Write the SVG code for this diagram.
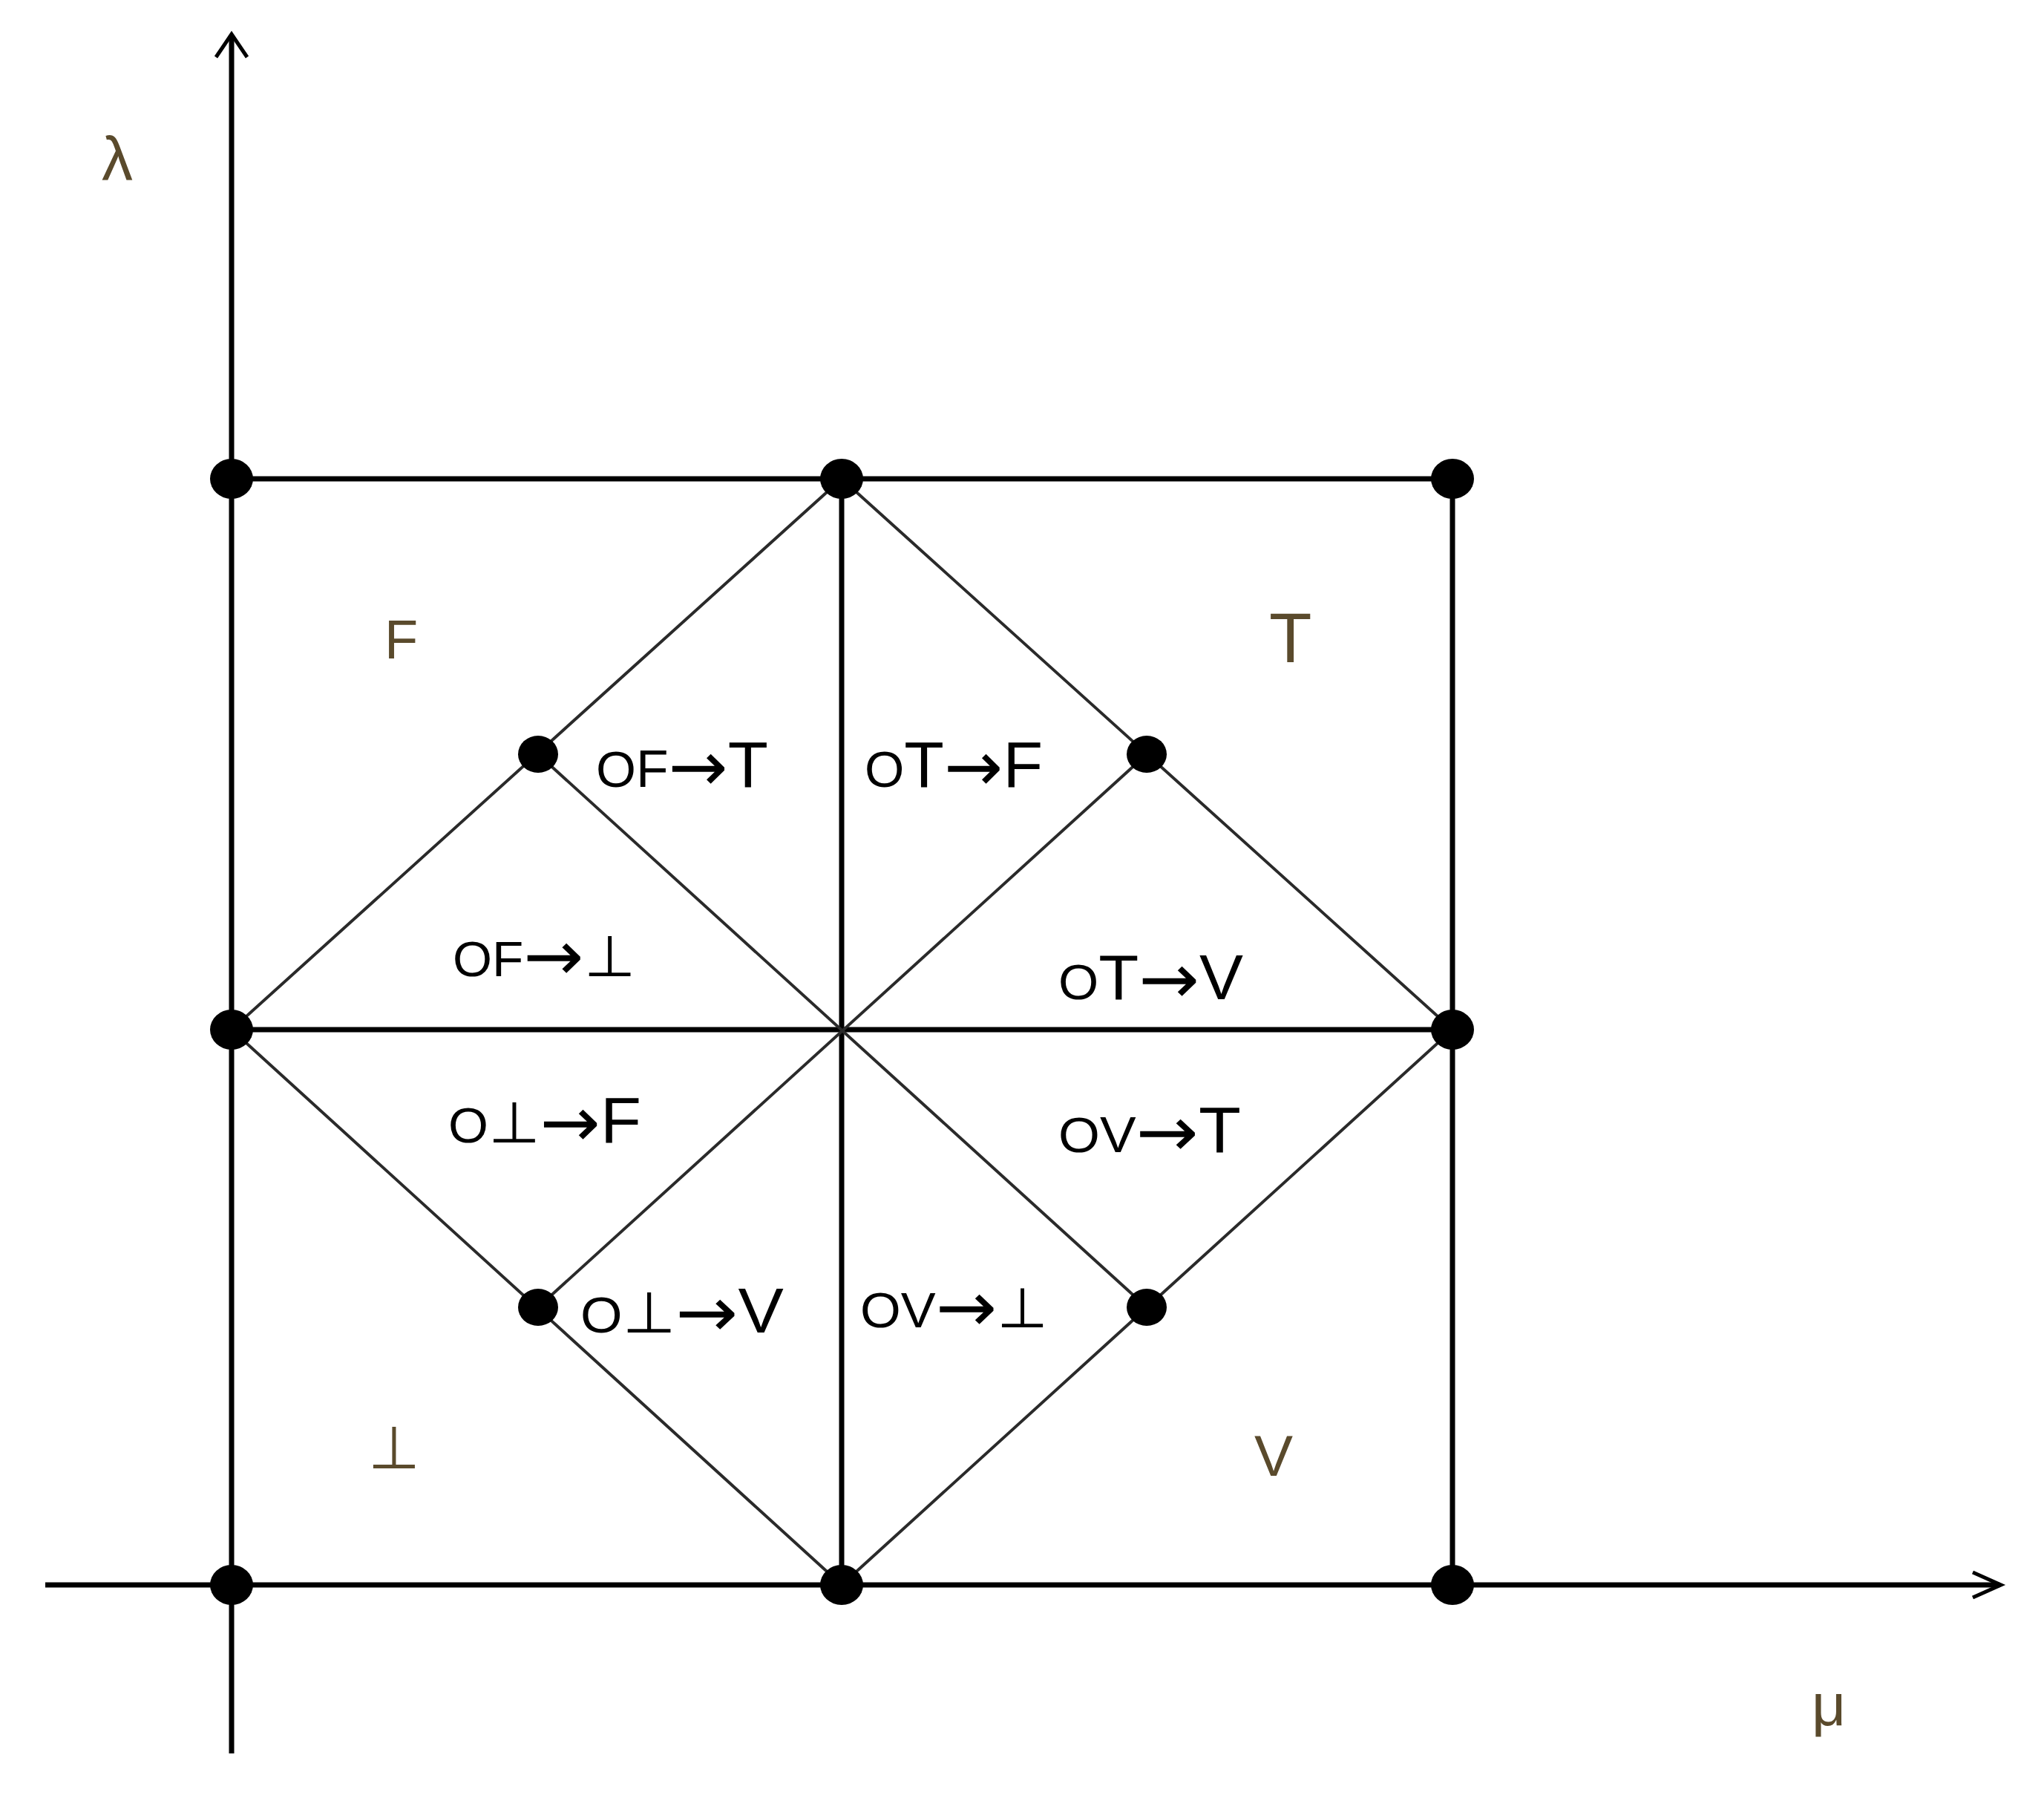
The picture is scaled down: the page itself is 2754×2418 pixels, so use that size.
<svg xmlns="http://www.w3.org/2000/svg" width="2754" height="2418" viewBox="0 0 2754 2418">
<style>
.ax{stroke:#000;stroke-width:7;fill:none;stroke-linecap:butt}
.dg{stroke:#2a2a2a;stroke-width:4;fill:none}
.ah{stroke:#000;stroke-width:5;fill:none;stroke-linejoin:miter}
.dot{fill:#000}
.lb{font-family:"Liberation Sans","DejaVu Sans",sans-serif;fill:#000}
.ar{font-family:"DejaVu Sans",sans-serif;font-size:94px}
.rg{font-family:"Liberation Sans","DejaVu Sans",sans-serif;fill:#5a4a2c}
</style>
<rect width="2754" height="2418" fill="#fff"/>
<g id="connectors">
<line class="ax" x1="312" y1="48" x2="312" y2="2362"/>
<line class="ax" x1="61" y1="2135" x2="2694" y2="2135"/>
<polyline class="ah" points="291,77 312,46 333,77"/>
<polyline class="ah" points="2658,2118 2696,2135 2658,2152"/>
<line class="ax" x1="312" y1="645" x2="1957" y2="645"/>
<line class="ax" x1="1957" y1="645" x2="1957" y2="2135"/>
<line class="ax" x1="312" y1="1387" x2="1957" y2="1387"/>
<line class="ax" x1="1134" y1="645" x2="1134" y2="2135"/>
<polygon class="dg" points="1134,645 1957,1387 1134,2135 312,1387"/>
<line class="dg" x1="725" y1="1016" x2="1545" y2="1761"/>
<line class="dg" x1="1545" y1="1016" x2="725" y2="1761"/>
</g>
<g id="n1"><ellipse class="dot" cx="312" cy="645" rx="29" ry="27"/></g>
<g id="n2"><ellipse class="dot" cx="1134" cy="645" rx="29" ry="27"/></g>
<g id="n3"><ellipse class="dot" cx="1957" cy="645" rx="29" ry="27"/></g>
<g id="n4"><ellipse class="dot" cx="312" cy="1387" rx="29" ry="27"/></g>
<g id="n5"><ellipse class="dot" cx="1957" cy="1387" rx="29" ry="27"/></g>
<g id="n6"><ellipse class="dot" cx="312" cy="2135" rx="29" ry="27"/></g>
<g id="n7"><ellipse class="dot" cx="1134" cy="2135" rx="29" ry="27"/></g>
<g id="n8"><ellipse class="dot" cx="1957" cy="2135" rx="29" ry="27"/></g>
<g id="n9"><ellipse class="dot" cx="725" cy="1016" rx="27" ry="25"/></g>
<g id="n10"><ellipse class="dot" cx="1545" cy="1016" rx="27" ry="25"/></g>
<g id="n11"><ellipse class="dot" cx="725" cy="1761" rx="27" ry="25"/></g>
<g id="n12"><ellipse class="dot" cx="1545" cy="1761" rx="27" ry="25"/></g>
<g id="labels">
<text class="lb" x="803" y="1060" textLength="232" lengthAdjust="spacingAndGlyphs"><tspan font-size="68">O</tspan><tspan font-size="70">F</tspan><tspan class="ar" dy="5">→</tspan><tspan font-size="87" dy="-5">T</tspan></text>
<text class="lb" x="1165" y="1060" textLength="240" lengthAdjust="spacingAndGlyphs"><tspan font-size="68">O</tspan><tspan font-size="87">T</tspan><tspan class="ar" dy="5">→</tspan><tspan font-size="87" dy="-5">F</tspan></text>
<text class="lb" x="610" y="1315" textLength="246" lengthAdjust="spacingAndGlyphs"><tspan font-size="66">O</tspan><tspan font-size="67">F</tspan><tspan class="ar" dy="5">→</tspan><tspan font-size="77" dy="-5">⊥</tspan></text>
<text class="lb" x="1426" y="1346" textLength="249" lengthAdjust="spacingAndGlyphs"><tspan font-size="67">O</tspan><tspan font-size="85">T</tspan><tspan class="ar" dy="5">→</tspan><tspan font-size="85" dy="-5">V</tspan></text>
<text class="lb" x="604" y="1539" textLength="260" lengthAdjust="spacingAndGlyphs"><tspan font-size="67">O</tspan><tspan font-size="77">⊥</tspan><tspan class="ar" dy="5">→</tspan><tspan font-size="87" dy="-5">F</tspan></text>
<text class="lb" x="1426" y="1552" textLength="246" lengthAdjust="spacingAndGlyphs"><tspan font-size="67">O</tspan><tspan font-size="68">V</tspan><tspan class="ar" dy="5">→</tspan><tspan font-size="87" dy="-5">T</tspan></text>
<text class="lb" x="782" y="1795" textLength="274" lengthAdjust="spacingAndGlyphs"><tspan font-size="68">O</tspan><tspan font-size="77">⊥</tspan><tspan class="ar" dy="5">→</tspan><tspan font-size="86" dy="-5">V</tspan></text>
<text class="lb" x="1159" y="1788" textLength="253" lengthAdjust="spacingAndGlyphs"><tspan font-size="67">O</tspan><tspan font-size="67">V</tspan><tspan class="ar" dy="5">→</tspan><tspan font-size="75" dy="-5">⊥</tspan></text>
</g>
<g id="regions">
<text class="rg" x="518" y="887" font-size="74">F</text>
<text class="rg" x="1710" y="892" font-size="94">T</text>
<text class="rg" x="496" y="1978" font-size="80">⊥</text>
<text class="rg" x="1690" y="1988" font-size="78">V</text>
<text class="rg" x="137" y="243" font-size="84">λ</text>
<text class="rg" x="2441" y="2324" font-size="80">μ</text>
</g>
</svg>
